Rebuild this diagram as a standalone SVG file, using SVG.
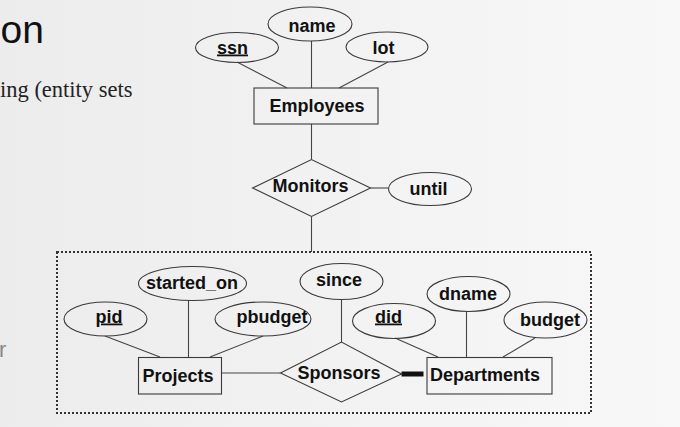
<svg xmlns="http://www.w3.org/2000/svg" width="680" height="427" viewBox="0 0 680 427">
<defs>
<linearGradient id="bg" x1="0" y1="0" x2="1" y2="0">
<stop offset="0" stop-color="#ececec"/>
<stop offset="1" stop-color="#f8f8f8"/>
</linearGradient>
</defs>
<style>
.e{fill:none;stroke:#3a3a3a;stroke-width:1.1}
.b{fill:none;stroke:#3a3a3a;stroke-width:1.1}
.l{stroke:#444;stroke-width:1.1;fill:none}
.t{font-family:"Liberation Sans",Arial,sans-serif;font-weight:bold;font-size:18px;fill:#111;text-anchor:middle}
.u{text-decoration:underline}
</style>
<rect width="680" height="427" fill="url(#bg)"/>
<text x="0.5" y="43" font-family="Liberation Sans,Arial,sans-serif" font-size="39" fill="#111">on</text>
<text x="0" y="97" font-family="Liberation Serif,Times New Roman,serif" font-size="22.5" fill="#222">ing (entity sets</text>
<text x="-1" y="357" font-family="Liberation Sans,Arial,sans-serif" font-size="22" fill="#888">r</text>

<g id="connectors">
<line class="l" x1="237" y1="62" x2="287" y2="88"/>
<line class="l" x1="311.5" y1="41" x2="311.5" y2="88"/>
<line class="l" x1="388" y1="62" x2="339" y2="88"/>
<line class="l" x1="311.5" y1="124" x2="311.5" y2="159"/>
<line class="l" x1="370.5" y1="188" x2="388.5" y2="188"/>
<line class="l" x1="311.5" y1="217" x2="311.5" y2="252"/>
<line class="l" x1="105" y1="336" x2="160" y2="357"/>
<line class="l" x1="188.5" y1="300.5" x2="188.5" y2="357"/>
<line class="l" x1="263" y1="336" x2="210" y2="357"/>
<line class="l" x1="221.5" y1="373" x2="280.5" y2="373"/>
<line class="l" x1="341.5" y1="299" x2="341.5" y2="342"/>
<line x1="401.5" y1="374" x2="423.5" y2="374" stroke="#111" stroke-width="5"/>
<line class="l" x1="395" y1="338" x2="438" y2="357"/>
<line class="l" x1="466.5" y1="311.5" x2="466.5" y2="357"/>
<line class="l" x1="535" y1="338" x2="503" y2="357"/>
</g>

<rect id="aggregation" x="57" y="252" width="534" height="161" fill="none" stroke="#333" stroke-width="2" stroke-dasharray="2 2"/>

<g id="ssn"><ellipse class="e" cx="237" cy="47.5" rx="41.5" ry="15"/><text class="t u" x="232.5" y="53.5">ssn</text></g>
<g id="name"><ellipse class="e" cx="310" cy="24" rx="42" ry="17"/><text class="t" x="312" y="32">name</text></g>
<g id="lot"><ellipse class="e" cx="387" cy="47" rx="41" ry="15"/><text class="t" x="383.5" y="54">lot</text></g>
<g id="Employees"><rect class="b" x="254" y="88" width="124" height="36"/><text class="t" x="317" y="111.5">Employees</text></g>
<g id="Monitors"><polygon class="b" points="252.5,188 311.5,159.5 370.5,188 311.5,216.5"/><text class="t" x="310.5" y="191.5">Monitors</text></g>
<g id="until"><ellipse class="e" cx="430" cy="189" rx="41.5" ry="16.5"/><text class="t" x="428.5" y="195">until</text></g>

<g id="pid"><ellipse class="e" cx="105.5" cy="319" rx="41.5" ry="17"/><text class="t u" x="109" y="322.5">pid</text></g>
<g id="started_on"><ellipse class="e" cx="192.5" cy="283.5" rx="54" ry="17"/><text class="t" x="192" y="289">started_on</text></g>
<g id="pbudget"><ellipse class="e" cx="263" cy="319" rx="48" ry="17"/><text class="t" x="272" y="322.5">pbudget</text></g>
<g id="Projects"><rect class="b" x="138.5" y="357.5" width="83" height="36.5"/><text class="t" x="178" y="382">Projects</text></g>
<g id="since"><ellipse class="e" cx="341.5" cy="281.5" rx="41.5" ry="18"/><text class="t" x="339" y="285.5">since</text></g>
<g id="Sponsors"><polygon class="b" points="280.5,373 341.5,342 401.5,374 341.5,402"/><text class="t" x="339" y="379">Sponsors</text></g>
<g id="did"><ellipse class="e" cx="394" cy="321" rx="41.5" ry="17.5"/><text class="t u" x="388.5" y="322.5">did</text></g>
<g id="dname"><ellipse class="e" cx="468.5" cy="294" rx="41.5" ry="17.5"/><text class="t" x="468" y="299.5">dname</text></g>
<g id="budget"><ellipse class="e" cx="545.5" cy="320" rx="41.5" ry="18"/><text class="t" x="550" y="326">budget</text></g>
<g id="Departments"><rect class="b" x="427" y="357.5" width="125" height="36.5"/><text class="t" x="485" y="381">Departments</text></g>
</svg>
